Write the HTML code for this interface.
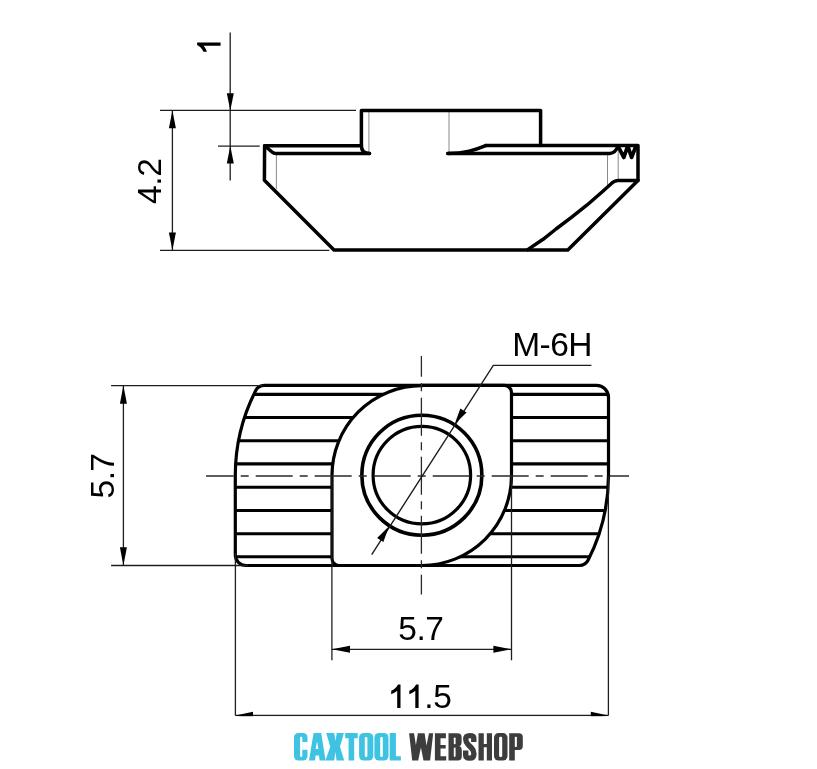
<!DOCTYPE html>
<html><head><meta charset="utf-8">
<style>
html,body{margin:0;padding:0;background:#fff;}
body{width:817px;height:769px;overflow:hidden;position:relative;}
svg{position:absolute;left:0;top:0;}
text{font-family:"Liberation Sans",sans-serif;}
svg{will-change:transform;}
</style></head>
<body>
<svg width="817" height="769" viewBox="0 0 817 769">
<defs>
  <path id="outerP" d="M264.41,385.45 L596.5,385.45 A12,12 0 0 1 608.5,397.45 L608.5,475.35 A186.6,186.6 0 0 1 588.31,559.77 A10,10 0 0 1 579.39,565.5 L245.8,565.5 A10.5,10.5 0 0 1 235.3,555 L235.3,475.35 A186.6,186.6 0 0 1 255.49,390.93 A10,10 0 0 1 264.41,385.45 Z"/>
  <clipPath id="outerClip"><use href="#outerP"/></clipPath>
  <path id="one" d="M0,0 L0,23.5 L-3.3,23.5 L-3.3,6.4 C-4.9,7.9 -7.1,9.1 -9.3,9.8 L-9.3,6.4 C-6.3,5.1 -3.9,2.9 -2.5,0 Z"/>
</defs>
<rect width="817" height="769" fill="#fff"/>

<!-- ============ TOP VIEW ============ -->
<g fill="none" stroke="#1e1e1e" stroke-width="1.3">
  <line x1="230.2" y1="32.6" x2="230.2" y2="180.6"/>
  <line x1="160" y1="110.4" x2="356" y2="110.4"/>
  <line x1="218" y1="146.2" x2="259.7" y2="146.2"/>
  <line x1="160" y1="250.3" x2="329.4" y2="250.3"/>
  <line x1="172.4" y1="110.4" x2="172.4" y2="250.2"/>
</g>
<g fill="#000" stroke="none">
  <path d="M230.3,110.4 L226.8,93.2 L233.8,93.2 Z"/>
  <path d="M230.3,146 L226.8,163.6 L233.8,163.6 Z"/>
  <path d="M172.4,110.4 L168.9,128.2 L175.9,128.2 Z"/>
  <path d="M172.4,250.2 L168.9,232.4 L175.9,232.4 Z"/>
</g>
<g fill="none" stroke="#8a8a8a" stroke-width="1">
  <line x1="368.9" y1="110.4" x2="368.9" y2="153.4"/>
  <line x1="449" y1="110.4" x2="449" y2="153.4"/>
  <line x1="276.4" y1="153.4" x2="276.4" y2="189"/>
  <line x1="607.5" y1="153.4" x2="607.5" y2="187"/>
  <line x1="618.2" y1="146" x2="618.2" y2="180"/>
</g>
<g fill="none" stroke="#000" stroke-width="3.5" stroke-linejoin="round" stroke-linecap="round">
  <path d="M264.6,145.7 L361.4,145.7 L361.4,110.4 L540.6,110.4 L540.6,145.6"/>
  <path d="M485.7,145.6 L638,145.6 L638,180.4 L567.8,250 L334,250 L264.4,180.3 L264.6,145.7"/>
  <path d="M265.5,146.5 L272,152 Q273.5,153.4 276,153.4 L369.5,153.4"/>
  <path d="M361.4,145.7 Q361.4,153.4 369.5,153.4"/>
  <path d="M447.8,153.4 C465,153.4 475,150 485.7,145.6"/>
  <path d="M447.8,153.4 L610,153.4 Q615.5,153 618,146"/>
  <path d="M527.7,249.6 L543.1,239.3 L556,229 L571.4,217.4 L586.8,205.2 L602.3,191.7 L612.3,182.7 Q615,180.4 618,180.4 L638,180.4"/>
  <path d="M618,146 L623.8,157.4 L627.8,146 L631.6,157.4 L636,146" stroke-width="3.8"/>
</g>
<use href="#one" transform="translate(197.1,42.5) rotate(-90)" fill="#000"/>
<text transform="translate(161.4,204) rotate(-90)" font-size="33.5" fill="#000" letter-spacing="-0.4">4.2</text>

<!-- ============ BOTTOM VIEW ============ -->
<g clip-path="url(#outerClip)" stroke="#000" stroke-width="3.1">
  <line x1="230" y1="394.4" x2="615" y2="394.4"/>
  <line x1="230" y1="417.5" x2="615" y2="417.5"/>
  <line x1="230" y1="440.7" x2="615" y2="440.7"/>
  <line x1="230" y1="463.9" x2="615" y2="463.9"/>
  <line x1="230" y1="487.3" x2="615" y2="487.3"/>
  <line x1="230" y1="510.5" x2="615" y2="510.5"/>
  <line x1="230" y1="533.7" x2="615" y2="533.7"/>
  <line x1="230" y1="556.8" x2="615" y2="556.8"/>
</g>
<!-- boss -->
<path d="M421.8,385.45 L504.5,385.45 A7,7 0 0 1 511.5,392.45 L511.5,475.35 A89.9,89.9 0 0 1 421.75,565.5 L339,565.5 A7,7 0 0 1 332,558.5 L332,475.35 A89.75,89.75 0 0 1 421.75,385.6 Z" fill="#fff" stroke="#000" stroke-width="3.2"/>
<use href="#outerP" fill="none" stroke="#000" stroke-width="3.2"/>
<!-- hole -->
<circle cx="421.85" cy="475.2" r="60" fill="none" stroke="#000" stroke-width="3.6"/>
<circle cx="421.85" cy="475.2" r="48.75" fill="none" stroke="#000" stroke-width="3.2"/>

<!-- centre lines -->
<g stroke="#2a2a2a" stroke-width="1.3" fill="none">
  <line x1="206" y1="476" x2="629" y2="476" stroke-dasharray="37 7 8 7" stroke-dashoffset="9.3"/>
  <line x1="421.4" y1="356" x2="421.4" y2="594.5" stroke-dasharray="38 6.5 8 6.5" stroke-dashoffset="17.25"/>
</g>

<!-- dims bottom view -->
<g fill="none" stroke="#1e1e1e" stroke-width="1.3">
  <line x1="111.1" y1="385.6" x2="262" y2="385.6"/>
  <line x1="111.1" y1="565.5" x2="248" y2="565.5"/>
  <line x1="123.4" y1="385.6" x2="123.4" y2="565.5"/>
  <line x1="235.4" y1="553" x2="235.4" y2="715.5"/>
  <line x1="608.4" y1="476" x2="608.4" y2="715.5"/>
  <line x1="331.9" y1="475.4" x2="331.9" y2="660.3"/>
  <line x1="511.5" y1="475.4" x2="511.5" y2="660.3"/>
  <line x1="331.9" y1="649.3" x2="511.5" y2="649.3"/>
  <line x1="235.4" y1="715.5" x2="608.4" y2="715.5"/>
</g>
<polyline points="371.7,554.6 493.3,365.4 591.4,365.4" fill="none" stroke="#1e1e1e" stroke-width="1.4"/>
<g fill="#000" stroke="none">
  <path d="M123.4,385.6 L119.9,403.8 L126.9,403.8 Z"/>
  <path d="M123.4,565.5 L119.9,547.3 L126.9,547.3 Z"/>
  <path d="M331.9,649.3 L350,645.8 L350,652.8 Z"/>
  <path d="M511.5,649.3 L493.4,645.8 L493.4,652.8 Z"/>
  <path d="M235.4,715.5 L253,711.8 L253,719.2 Z"/>
  <path d="M608.4,715.5 L590.8,711.8 L590.8,719.2 Z"/>
</g>
<g fill="#000" transform="translate(421.85,475.2) rotate(-57.3)">
  <path d="M60.8,0 L77,-3.7 L77,3.7 Z"/>
  <path d="M-60.8,0 L-77,-3.7 L-77,3.7 Z"/>
</g>

<text transform="translate(114.2,498.4) rotate(-90)" font-size="33.5" fill="#000" letter-spacing="-0.6">5.7</text>
<text x="512.3" y="356.2" font-size="33.5" fill="#000" letter-spacing="-0.6">M-6H</text>
<text x="398.2" y="640" font-size="33.5" fill="#000" letter-spacing="-0.4">5.7</text>
<use href="#one" transform="translate(400.5,684.4)" fill="#000"/>
<use href="#one" transform="translate(418.6,684.4)" fill="#000"/>
<text x="424.3" y="707.9" font-size="33.5" fill="#000" letter-spacing="-0.4">.5</text>

<!-- logo box -->
<rect x="0" y="716.2" width="817" height="53" fill="#fff"/>
<g fill="#3fc3e3">
  <rect x="294" y="732.9" width="13.5" height="27.6" rx="4.5"/>
  <path d="M309,760.5 L313.6,732.9 L321.2,732.9 L325.6,760.5 L319.6,760.5 L319,755.4 L315.6,755.4 L315,760.5 Z"/>
  <path d="M326.2,732.9 L334.2,732.9 L335.5,741 L336.8,732.9 L343.9,732.9 L340,746.7 L344.2,760.5 L336.6,760.5 L335.4,752 L334.2,760.5 L325.4,760.5 L330.3,746.7 Z"/>
  <path d="M345.2,732.9 L357.7,732.9 L357.7,738.2 L354.2,738.2 L354.2,760.5 L348.6,760.5 L348.6,738.2 L345.2,738.2 Z"/>
  <rect x="359.1" y="732.9" width="14.2" height="27.6" rx="4.5"/>
  <rect x="374.4" y="732.9" width="14.1" height="27.6" rx="4.5"/>
  <path d="M389.7,732.9 L395.9,732.9 L395.9,756.2 L400.9,756.2 L400.9,760.5 L389.7,760.5 Z"/>
</g>
<g fill="#fff">
  <rect x="300.1" y="736.7" width="2.2" height="20.3" rx="1"/>
  <rect x="302.2" y="742" width="6" height="7.8"/>
  <path d="M315.6,749 L318.4,749 L317,741.3 Z"/>
  <rect x="364.8" y="737.1" width="2.6" height="19.9" rx="1.2"/>
  <rect x="380.2" y="737.1" width="2.6" height="19.9" rx="1.2"/>
</g>
<g fill="#3d3d3d">
  <path d="M409.1,733.2 L414,733.2 L415.9,745 L417.9,733.2 L424.6,733.2 L426.5,745.4 L429,733.2 L433.2,733.2 L430.1,760.4 L423.5,760.4 L420.9,747.5 L418.2,760.4 L412.2,760.4 Z"/>
  <path d="M434.9,733.3 L445.9,733.3 L445.9,738.3 L440.5,738.3 L440.5,744.9 L445.7,744.9 L445.7,748.6 L440.5,748.6 L440.5,756.2 L446.2,756.2 L446.2,760.5 L434.9,760.5 Z"/>
  <path d="M448.5,733.2 L457.6,733.2 Q461.6,733.2 461.6,737.2 L461.6,742.6 Q461.6,745.4 459.6,746.2 Q461.8,747 461.8,750 L461.8,756.5 Q461.8,760.5 457.8,760.5 L448.5,760.5 Z"/>
  <path d="M478.5,733.3 L483.8,733.3 L483.8,743.9 L486.8,743.9 L486.8,733.3 L492,733.3 L492,760.5 L486.8,760.5 L486.8,747.3 L483.8,747.3 L483.8,760.5 L478.5,760.5 Z"/>
  <rect x="494" y="733.1" width="13.5" height="27.4" rx="4.5"/>
  <path d="M509.2,733.3 L518.8,733.3 Q522.8,733.3 522.8,737.3 L522.8,746 Q522.8,750 518.8,750 L514.8,750 L514.8,760.5 L509.2,760.5 Z"/>
</g>
<path d="M473.8,742 L473.8,738 Q473.8,735.6 469.8,735.6 Q465.7,735.6 465.7,739 Q465.7,742 468.2,744.6 L471.5,748 Q473.8,750.3 473.8,753.2 L473.8,754.8 Q473.8,758.1 469.8,758.1 Q465.7,758.1 465.7,755 L465.7,750.5" fill="none" stroke="#3d3d3d" stroke-width="5.4"/>
<g fill="#fff">
  <rect x="453.8" y="737.5" width="1.8" height="6.7" rx="0.8"/>
  <rect x="453.8" y="747.6" width="1.8" height="9.3" rx="0.8"/>
  <rect x="499.1" y="736.7" width="3.1" height="20.3" rx="1.3"/>
  <rect x="514.8" y="736.7" width="2.1" height="10.3" rx="0.8"/>
</g>
</svg>
</body></html>
